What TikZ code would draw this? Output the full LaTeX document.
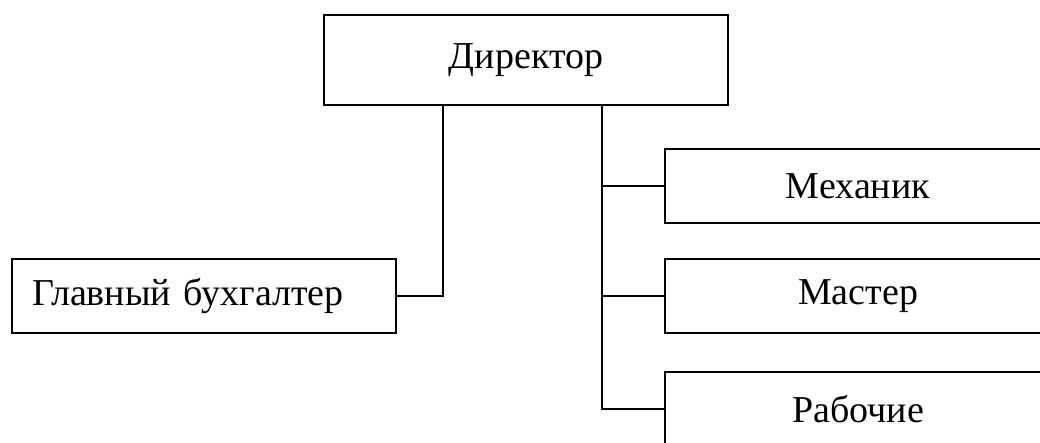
\documentclass[tikz,border=0pt]{standalone}
\usepackage{fontspec}
\setmainfont{Liberation Serif}
\tikzset{
  orgbox/.style={draw=black, line width=1.6pt, minimum height=74pt, inner sep=0pt,
    font=\fontsize{38}{42}\selectfont},
  link/.style={draw=black, line width=1.6pt}
}
\begin{document}
\begin{tikzpicture}[x=1pt,y=-1pt]
\path[use as bounding box] (0,0) rectangle (1040,443);
\clip (0,0) rectangle (1040,443);
\node[orgbox, minimum width=404pt, minimum height=90pt] (dir) at (526,60) {\raisebox{3pt}{Директор}};
\node[orgbox, text width=344pt, inner xsep=20pt, align=left] (gb) at (204,296) {Главный бухгалтер};
\node[orgbox, minimum width=386pt] (mech) at (858,186) {Механик};
\node[orgbox, minimum width=386pt] (mast) at (858,296) {Мастер};
\node[orgbox, minimum width=386pt] (rab) at (858,409) {Рабочие};
\coordinate (tl) at (443,0);
\coordinate (tr) at (602,0);
\draw[link] (dir.south -| tl) |- (gb.east);
\draw[link] (dir.south -| tr) |- (rab.west);
\draw[link] (mech.west -| tr) -- (mech.west);
\draw[link] (mast.west -| tr) -- (mast.west);
\end{tikzpicture}
\end{document}
